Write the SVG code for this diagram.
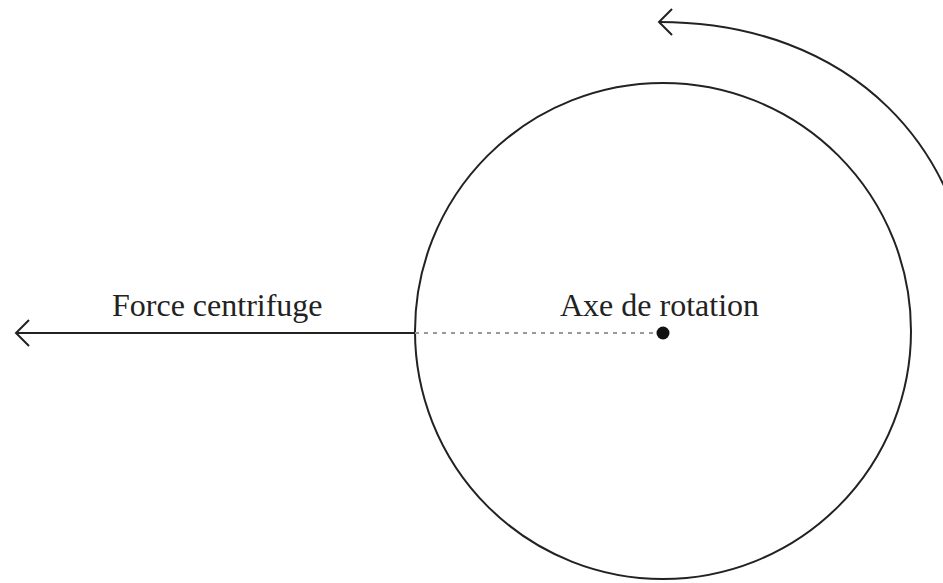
<svg xmlns="http://www.w3.org/2000/svg" width="943" height="583" viewBox="0 0 943 583">
<style>
.ln{fill:none;stroke:#222;stroke-width:2}
.lbl{font-family:"Liberation Serif","Times New Roman",serif;font-size:32px;fill:#222}
</style>
<defs>
<marker id="open" viewBox="0 0 20 30" refX="18" refY="15" markerWidth="20" markerHeight="30" markerUnits="userSpaceOnUse" orient="auto">
<path d="M5 2 L18 15 L5 28" fill="none" stroke="#222" stroke-width="2"/>
</marker>
</defs>
<rect width="943" height="583" fill="#fff"/>
<g id="wheel">
<circle class="ln" cx="663" cy="331" r="248"/>
</g>
<g id="axis">
<circle cx="663" cy="333" r="6.5" fill="#111"/>
<text class="lbl" x="560" y="316">Axe de rotation</text>
</g>
<g id="force">
<text class="lbl" x="112" y="316">Force centrifuge</text>
</g>
<g id="connectors">
<line x1="415" y1="333" x2="655" y2="333" stroke="#999" stroke-width="2" stroke-dasharray="4 5"/>
<line class="ln" x1="415" y1="333" x2="16" y2="333" marker-end="url(#open)"/>
<path class="ln" d="M975 331 C975 146 848 22 659 22" marker-end="url(#open)"/>
</g>
</svg>
